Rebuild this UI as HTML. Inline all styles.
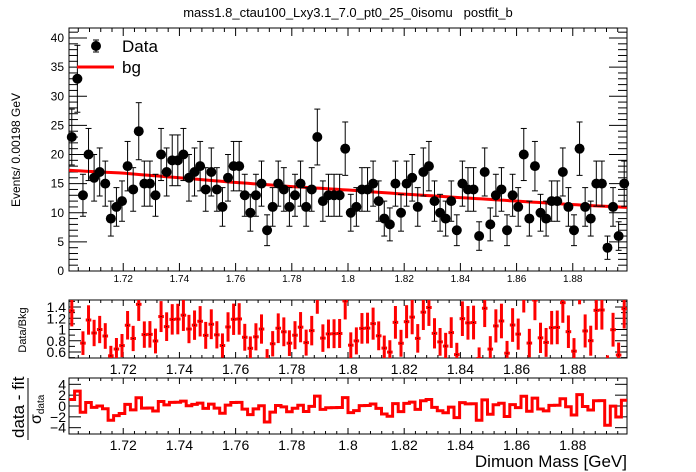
<!DOCTYPE html>
<html><head><meta charset="utf-8"><style>
body{margin:0;background:#fff;}
svg{display:block;font-family:"Liberation Sans",Arial,sans-serif;}
</style></head><body>
<svg id="c" width="696" height="472" viewBox="0 0 696 472">
<text x="348" y="17" text-anchor="middle" font-size="13" style="white-space:pre">mass1.8_ctau100_Lxy3.1_7.0_pt0_25_0isomu   postfit_b</text>
<text transform="translate(20,150) rotate(-90)" text-anchor="middle" font-size="12">Events/ 0.00198 GeV</text>
<text transform="translate(26,330) rotate(-90)" text-anchor="middle" font-size="11">Data/Bkg</text>
<g>
<text transform="translate(24,438) rotate(-90)" font-size="17">data - fit</text>
<line x1="28" y1="378" x2="28" y2="440" stroke="#000" stroke-width="1"/>
<text transform="translate(41,424) rotate(-90)" font-size="16">σ<tspan font-size="10" dy="3">data</tspan></text>
</g>
<text x="627" y="467" text-anchor="end" font-size="17">Dimuon Mass [GeV]</text>
<g id="main"></g><g id="ratio"></g><g id="pull"></g>
<g>
<g>
<line x1="96" y1="40" x2="96" y2="52" stroke="#000"/><line x1="93" y1="40" x2="99" y2="40" stroke="#000"/><line x1="93" y1="52" x2="99" y2="52" stroke="#000"/>
<circle cx="96" cy="46" r="5"/>
<text x="122" y="52" font-size="17">Data</text></g>
<g>
<line x1="77" y1="67" x2="114" y2="67" stroke="red" stroke-width="3"/>
<text x="122" y="73" font-size="17">bg</text></g>
</g>
</svg>
<script>
const counts=[23,33,13,20,16,17,15,9,11,12,18,14,24,15,15,13,20,17,19,19,20,16,17,18,14,17,14,11,16,18,18,13,10,13,15,7,11,15,14,11,13,15,11,14,23,12,13,13,13,21,10,11,14,14,15,12,9,8,15,10,15,16,11,17,18,12,10,9,12,7,15,14,14,6,17,8,13,14,7,13,11,20,9,18,10,9,12,12,17,11,7,21,11,9,15,15,4,11,6,15];
const bgMass=[1.70,1.72,1.74,1.76,1.78,1.80,1.82,1.84,1.86,1.88,1.90];
const bgVals=[17.3,16.8,16.0,15.2,14.5,13.9,13.2,12.6,12.0,11.4,10.9];
const xTicks=[1.72,1.74,1.76,1.78,1.8,1.82,1.84,1.86,1.88];
const yTicks=[0,5,10,15,20,25,30,35,40];
const ratioTicks=[0.6,0.8,1,1.2,1.4];
const pullTicks=[-4,-2,0,2,4];
const NS='http://www.w3.org/2000/svg';
const XL=69,XR=627,xlo=1.7007,xhi=1.8993,bw=(xhi-xlo)/100;
const X=m=>XL+(m-xlo)/(xhi-xlo)*(XR-XL);
const Y=v=>271-v*5.825;
const YR=v=>329.5-(v-1)*56.25;
const YP=v=>406-v*5.42;
function el(p,t,a){const e=document.createElementNS(NS,t);for(const k in a)e.setAttribute(k,a[k]);p.appendChild(e);return e;}
function bgAt(m){for(let i=0;i<bgMass.length-1;i++){if(m<=bgMass[i+1]){const f=(m-bgMass[i])/(bgMass[i+1]-bgMass[i]);return bgVals[i]+f*(bgVals[i+1]-bgVals[i]);}}return bgVals[bgVals.length-1];}
function frame(g,top,bot,name){
 const r=el(g,'rect',{x:XL,y:top,width:XR-XL,height:bot-top,fill:'none',stroke:'#000','stroke-width':1});
 
 
}
function xAxis(g,top,bot,fs,ly,tl,name){
 const ax=el(g,'g',{});
 
 
 for(let m=1.70;m<1.9;m+=0.004){const x=X(m);if(x<XL||x>XR)continue;
  const major=Math.abs(Math.round(m/0.02)*0.02-m)<1e-6;const L=major?tl:tl/2;
  el(ax,'line',{x1:x,y1:bot,x2:x,y2:bot-L,stroke:'#000'});el(ax,'line',{x1:x,y1:top,x2:x,y2:top+L,stroke:'#000'});}
 xTicks.forEach(t=>{const e=el(ax,'text',{x:X(t),y:ly,'text-anchor':'middle','font-size':fs});e.textContent=String(t);});
}
const gm=document.getElementById('main');
frame(gm,28,271,'main-plot-frame');
xAxis(gm,28,271,10,282,8,'main-x-axis');
const ya=el(gm,'g',{});


for(let v=0;v<=41;v++){const L=v%5==0?18:9;el(ya,'line',{x1:XL,y1:Y(v),x2:XL+L,y2:Y(v),stroke:'#000'});el(ya,'line',{x1:XR,y1:Y(v),x2:XR-L,y2:Y(v),stroke:'#000'});}
yTicks.forEach(t=>{const e=el(ya,'text',{x:64,y:Y(t)+4,'text-anchor':'end','font-size':12});e.textContent=t;});
let d='';for(let i=0;i<=100;i++){const m=xlo+i*bw;d+=(i?'L':'M')+X(m).toFixed(1)+' '+Y(bgAt(m)).toFixed(1);}
const bgl=el(gm,'path',{d:d,fill:'none',stroke:'red','stroke-width':3});


const gp=el(gm,'g',{});


counts.forEach((n,i)=>{const m=xlo+(i+0.5)*bw,x=X(m),e=Math.sqrt(n);
 const g=el(gp,'g',{});
 
 
 const y1=Math.max(28,Y(n+e)),y2=Y(Math.max(0,n-e));
 el(g,'line',{x1:x,y1:y1,x2:x,y2:y2,stroke:'#000'});
 el(g,'line',{x1:x-3,y1:y1,x2:x+3,y2:y1,stroke:'#000'});el(g,'line',{x1:x-3,y1:y2,x2:x+3,y2:y2,stroke:'#000'});
 el(g,'circle',{cx:x,cy:Y(n),r:5,fill:'#000'});});
const gr=document.getElementById('ratio');
frame(gr,300,358,'ratio-plot-frame');
xAxis(gr,300,358,14,374,6,'ratio-x-axis');
const ra=el(gr,'g',{});


for(let v=0.5;v<=1.51;v+=0.1){const y=YR(v);if(y<300||y>358)continue;const maj=Math.abs(v*5-Math.round(v*5))<1e-6;const L=maj?12:6;
 el(ra,'line',{x1:XL,y1:y,x2:XL+L,y2:y,stroke:'#000'});el(ra,'line',{x1:XR,y1:y,x2:XR-L,y2:y,stroke:'#000'});}
ratioTicks.forEach(t=>{const e=el(ra,'text',{x:66,y:YR(t)+5,'text-anchor':'end','font-size':14});e.textContent=String(t);});
const cp=el(gr,'clipPath',{id:'rc'});el(cp,'rect',{x:XL,y:300,width:XR-XL,height:58});
const rp=el(gr,'g',{'clip-path':'url(#rc)'});


counts.forEach((n,i)=>{const m=xlo+(i+0.5)*bw,x=X(m),b=bgAt(m),r=n/b,e=Math.sqrt(n)/b;
 const g=el(rp,'g',{});
 
 
 el(g,'line',{x1:x,y1:YR(r+e),x2:x,y2:YR(r-e),stroke:'red','stroke-width':3});
 el(g,'line',{x1:x-2.8,y1:YR(r),x2:x+2.8,y2:YR(r),stroke:'red','stroke-width':3});
 el(g,'rect',{x:x-0.5,y:YR(r)-0.5,width:1,height:1,fill:'#000'});});
const gl=document.getElementById('pull');
frame(gl,378,434,'pull-plot-frame');
xAxis(gl,378,434,14,450,6,'pull-x-axis');
const pa=el(gl,'g',{});


pullTicks.forEach(t=>{const y=YP(t);el(pa,'line',{x1:XL,y1:y,x2:XL+12,y2:y,stroke:'#000'});el(pa,'line',{x1:XR,y1:y,x2:XR-12,y2:y,stroke:'#000'});
 const e=el(pa,'text',{x:66,y:y+5,'text-anchor':'end','font-size':14});e.textContent=String(t).replace('-','−');});
let pd='';counts.forEach((n,i)=>{const m=xlo+(i+0.5)*bw,b=bgAt(m),p=(n-b)/Math.sqrt(n),y=YP(p);
 const x0=X(xlo+i*bw),x1=X(xlo+(i+1)*bw);pd+=(i?'L':'M')+x0.toFixed(1)+' '+y.toFixed(1)+'L'+x1.toFixed(1)+' '+y.toFixed(1);});
const pl=el(gl,'path',{d:pd,fill:'none',stroke:'red','stroke-width':3});


</script>
</body></html>
